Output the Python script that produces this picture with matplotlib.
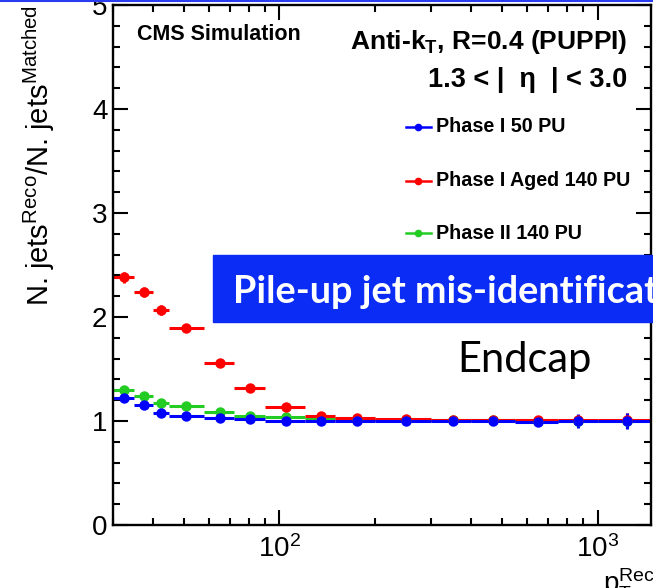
import numpy as np
import matplotlib
matplotlib.use('Agg')
import matplotlib.pyplot as plt
from matplotlib.lines import Line2D

plt.rcParams['font.family'] = ['Liberation Sans', 'DejaVu Sans']
plt.rcParams['mathtext.default'] = 'regular'

# pT bins (GeV)
pt_lo = [30, 35, 40, 45, 58, 72, 90, 120, 150, 200, 300, 400, 550, 750, 1000]
pt_hi = [35, 40, 45, 58, 72, 90, 120, 150, 200, 300, 400, 550, 750, 1000, 1500]
pt_center = [32.5, 37.5, 42.5, 51, 65, 81, 105, 135, 175, 250, 350, 470, 650, 870, 1240]

# ratio N. jets reco / N. jets matched
ratio_50pu = [1.22, 1.15, 1.08, 1.05, 1.03, 1.02, 1.00, 1.00, 1.00, 1.00, 1.00, 1.00, 0.99, 1.00, 1.00]
ratio_aged = [2.38, 2.24, 2.07, 1.89, 1.56, 1.32, 1.13, 1.05, 1.03, 1.02, 1.01, 1.01, 1.01, 1.01, 1.01]
ratio_ph2 = [1.30, 1.24, 1.17, 1.14, 1.09, 1.05, 1.04, 1.03, 1.02, 1.01, 1.01, 1.01, 1.00, 1.00, 1.00]

err_50pu = [0.02, 0.02, 0.02, 0.01, 0.01, 0.01, 0.01, 0.01, 0.01, 0.01, 0.01, 0.02, 0.03, 0.065, 0.08]
err_aged = [0.055, 0.05, 0.05, 0.02, 0.02, 0.02, 0.01, 0.01, 0.01, 0.01, 0.01, 0.02, 0.03, 0.05, 0.07]
err_ph2 = [0.02, 0.02, 0.02, 0.01, 0.01, 0.01, 0.01, 0.01, 0.01, 0.01, 0.01, 0.02, 0.03, 0.05, 0.07]

labels = ['Phase I 50 PU', 'Phase I Aged 140 PU', 'Phase II 140 PU']
colors = ['#0000ff', '#ff0000', '#22cc22']


def px(xp, yp):
    # pixel position (from top-left) -> figure fraction
    return xp / 653, 1 - yp / 588


fig = plt.figure(figsize=(6.53, 5.88), dpi=100)
ax = fig.add_axes([113 / 653, 1 - 525 / 588, 538 / 653, 520 / 588])

x = np.array(pt_center)
xerr = [x - np.array(pt_lo), np.array(pt_hi) - x]

series = [(ratio_ph2, err_ph2, colors[2]),
          (ratio_aged, err_aged, colors[1]),
          (ratio_50pu, err_50pu, colors[0])]
for vals, errs, c in series:
    ax.errorbar(x, vals, xerr=xerr, yerr=errs, fmt='o', color=c, ms=7.5,
                elinewidth=2.2, capsize=0, mew=0)

ax.set_xscale('log')
ax.set_xlim(30, 1470)
ax.set_ylim(0, 5)
ax.set_yticks([0, 1, 2, 3, 4, 5])
ax.set_yticks(np.arange(0, 5.01, 0.2), minor=True)
ax.xaxis.set_major_formatter(matplotlib.ticker.FuncFormatter(
    lambda v, p: '$10^{%d}$' % round(np.log10(v))))
ax.xaxis.set_minor_formatter(matplotlib.ticker.NullFormatter())

for s in ax.spines.values():
    s.set_linewidth(1.7)
ax.tick_params(which='both', direction='in', top=True, right=True, width=1.5,
               labelsize=20)
ax.tick_params(which='major', length=11)
ax.tick_params(which='minor', length=5)
ax.tick_params(axis='y', pad=4)
ax.tick_params(axis='x', pad=7)

fig.text(39 / 653, 1 - 5 / 588, 'N. jets$^{Reco}$/N. jets$^{Matched}$',
         rotation=90, ha='center', va='top', fontsize=21)
fig.text(603 / 653, -4 / 588, '$p_{T}^{Reco}$', ha='left', va='baseline', fontsize=20)

fig.text(*px(137, 35), 'CMS Simulation', fontsize=15.5, fontweight='bold', va='center')
fig.text(*px(627, 42), 'Anti-k$_{T}$, R=0.4 (PUPPI)', fontsize=19, fontweight='bold',
         ha='right', va='center')
fig.text(*px(627, 80), '1.3 < |  η  | < 3.0', fontsize=19.5, fontweight='bold',
         ha='right', va='center')

for lab, c, yp in zip(labels, colors, [127, 181, 233]):
    fx, fy = px(406, yp)
    fx2, _ = px(431, yp)
    fig.add_artist(Line2D([fx, fx2], [fy, fy], color=c, lw=1.8, transform=fig.transFigure))
    mx, _ = px(418, yp)
    fig.add_artist(Line2D([mx], [fy], marker='o', ms=5.5, color=c, mew=0,
                          transform=fig.transFigure))
    fig.text(*px(436, yp), lab, fontsize=14.2, fontweight='bold', va='center')

# blue banner overlay
fig.patches.append(plt.Rectangle(px(213, 322), 460 / 653, 67 / 588, color='#0a2cf5',
                                 transform=fig.transFigure, zorder=5))
fig.text(*px(233, 292), 'Pile-up jet mis-identification', color='white', fontsize=27.3,
         fontweight='bold', family='Lato', va='center', zorder=6)
fig.text(*px(457, 360), 'Endcap', color='black', fontsize=30, family='Lato',
         va='center', zorder=6)

# slide border line at the very top
fig.add_artist(Line2D([0, 1], [0.998, 0.998], color='#2a3cf0', lw=1.5,
                      transform=fig.transFigure))

fig.savefig('out.png', dpi=100)
